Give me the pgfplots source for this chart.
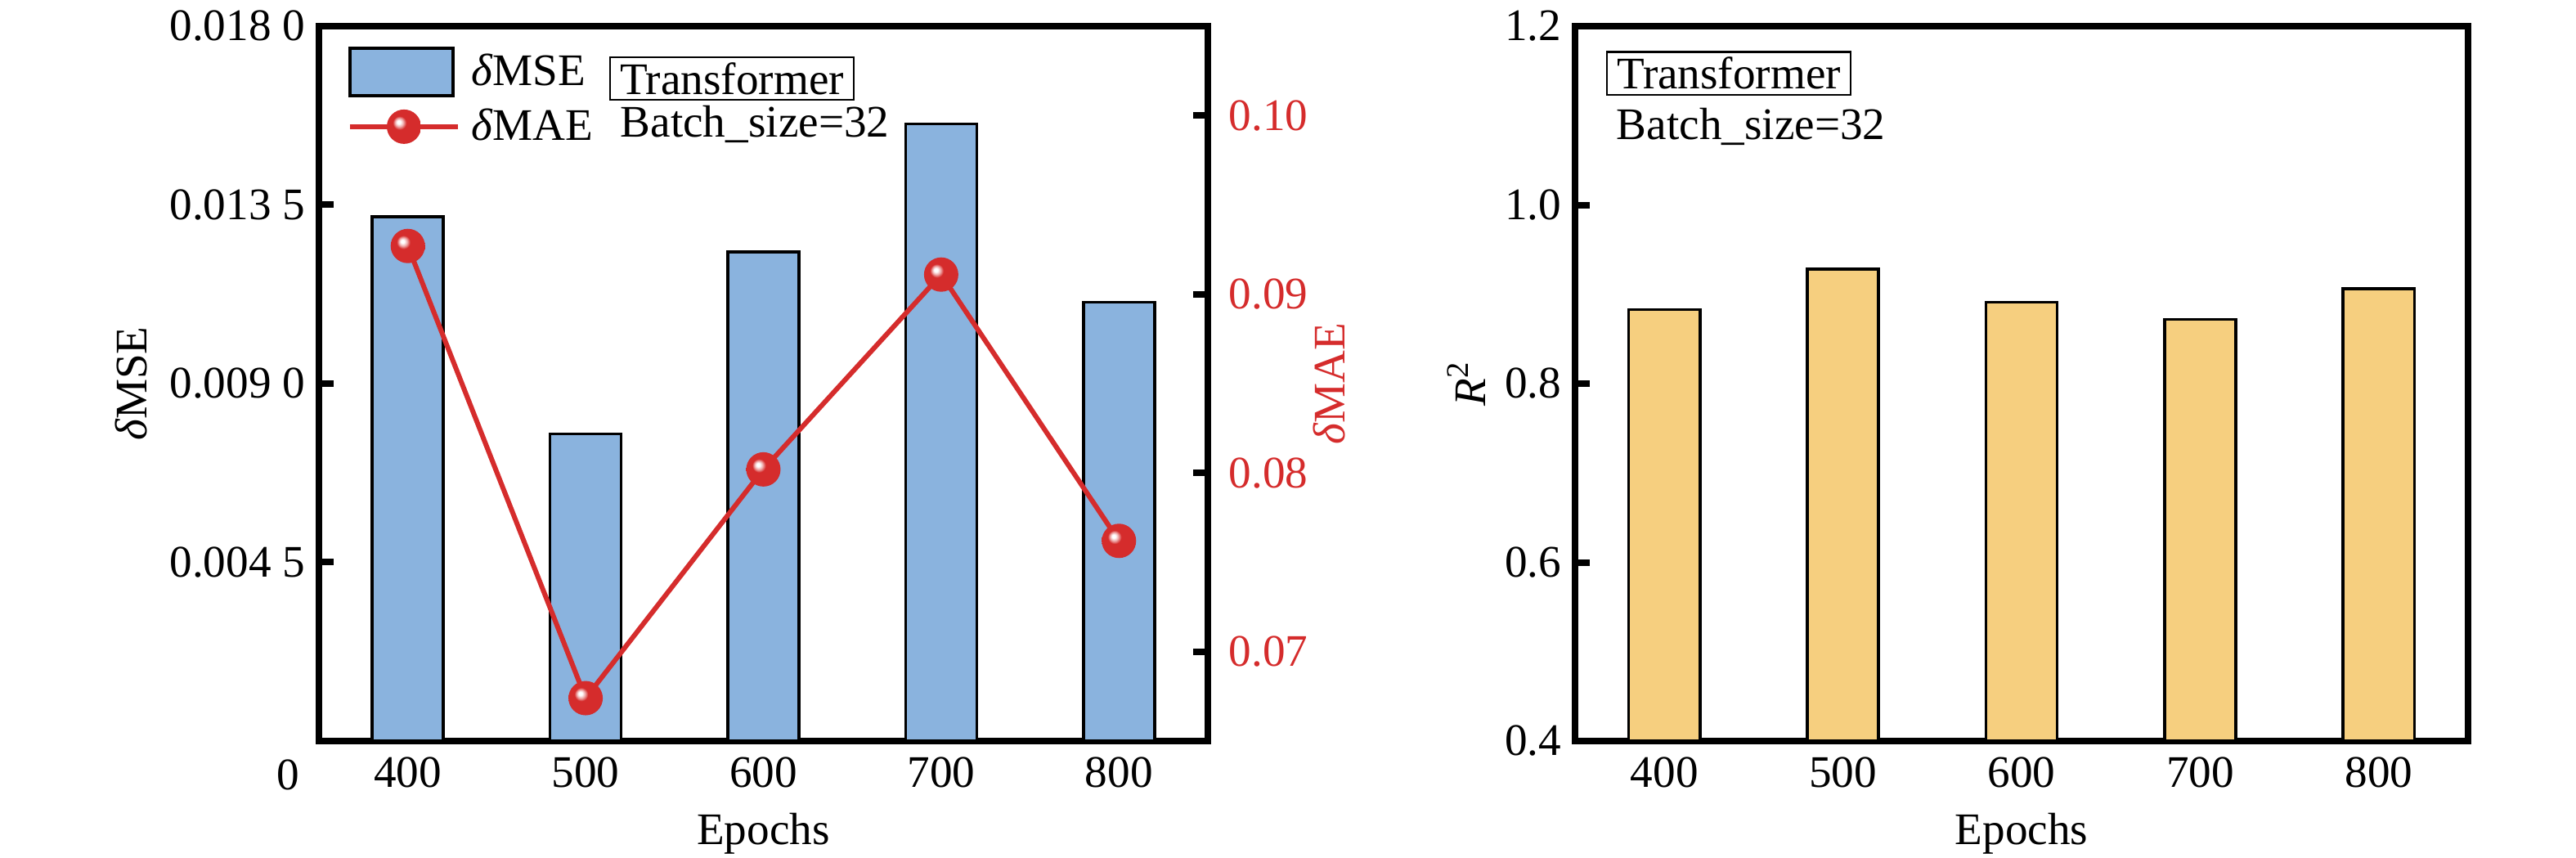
\documentclass[border=0pt]{standalone}
\usepackage{fontspec}
\setmainfont{Liberation Serif}
\usepackage{pgfplots}
\pgfplotsset{compat=1.18}
\definecolor{barblue}{RGB}{138,179,222}
\definecolor{baryellow}{RGB}{246,207,127}
\definecolor{myred}{RGB}{213,44,44}
\colorlet{ballpink}{myred!40!white}
\colorlet{balldark}{myred!82!black}
\pgfdeclareradialshading{myballshade}{\pgfpoint{-8bp}{7bp}}{%
  color(0bp)=(white); color(2.5bp)=(white); color(6bp)=(ballpink);
  color(10bp)=(myred); color(27bp)=(myred); color(38bp)=(balldark); color(50bp)=(balldark)}
\pgfdeclareplotmark{shball}{%
  \pgfpathcircle{\pgfpointorigin}{\pgfplotmarksize}%
  \pgfshadepath{myballshade}{0}%
  \pgfusepath{}%
}
\newcommand{\fs}{\fontsize{13.8}{16.5}\selectfont}
\pgfplotsset{
  mybarlegend/.style={legend image code/.code={\draw[##1,/tikz/.cd] (0pt,-7.25pt) rectangle (31.5pt,7.25pt);}},
  mylinelegend/.style={legend image code/.code={\draw[##1, mark repeat=2, mark phase=2] plot coordinates {(0pt,0pt) (16.5pt,0pt) (33pt,0pt)};}},
  base/.style={
    scale only axis, width=271.75pt, height=218.5pt,
    anchor=south west,
    xmin=-0.5, xmax=4.5,
    font=\fs,
    axis line style={line width=2pt,-},
    tick align=inside,
    major tick length=4.5pt,
    every tick/.style={black, line width=2pt},
    scaled y ticks=false,
    xtick={0,1,2,3,4},
    xticklabels={400,500,600,700,800},
    xtick style={draw=none},
    xticklabel style={anchor=north, inner sep=0pt, yshift=-4.75pt},
    xlabel={Epochs},
    xlabel style={at={(axis description cs:0.5,-0.1442)}, anchor=base},
  }
}
\begin{document}
\begin{tikzpicture}
\useasboundingbox (0,0) rectangle (787.5pt,262.25pt);
% ---------- left panel, bars ----------
\begin{axis}[base, at={(97.5pt,35.75pt)},
  ymin=0, ymax=0.018,
  ytick={0.0045,0.009,0.0135,0.018},
  yticklabels={0.004 5,0.009 0,0.013 5,0.018 0},
  ytick pos=left,
  yticklabel style={anchor=east, inner sep=0pt, xshift=-4pt},
  ylabel={{\itshape δ}MSE},
  ylabel style={at={(axis description cs:-0.2116,0.5)}, anchor=center},
  legend style={draw=none, fill=none, inner sep=0pt, outer sep=0pt,
    at={(axis description cs:0,1)}, anchor=north west,
    xshift=8.75pt, yshift=-6.25pt,
    nodes={inner sep=0pt, font=\fs},
    row sep=3.5pt,
    /tikz/every odd column/.append style={column sep=3.5pt}},
  legend cell align=left,
]
\addplot[ybar, bar width=0.4, fill=barblue, draw=black, line width=0.9pt, mybarlegend]
  coordinates {(0,0.013204) (1,0.007733) (2,0.012316) (3,0.015537) (4,0.011049)};
\addlegendimage{myred, line width=1.5pt, mark=shball, mark size=5.25pt, mylinelegend}
\legend{{\itshape δ}MSE, {\itshape δ}MAE}
\node[draw, line width=0.6pt, inner xsep=3pt, inner ysep=1.6pt, anchor=west]
  at ([xshift=88.75pt,yshift=-16pt]axis description cs:0,1) {Transformer};
\node[inner sep=0pt, anchor=west]
  at ([xshift=92pt,yshift=-30pt]axis description cs:0,1) {Batch\_size=32};
\end{axis}
\node[anchor=north east, inner sep=0pt, font=\fs] at (91.75pt,30.25pt) {0};
% ---------- left panel, line ----------
\begin{axis}[base, at={(97.5pt,35.75pt)},
  axis x line=none, axis y line*=right,
  xlabel={}, 
  ymin=0.065, ymax=0.105,
  ytick={0.07,0.08,0.09,0.10},
  yticklabels={0.07,0.08,0.09,0.10},
  yticklabel style={anchor=west, inner sep=0pt, xshift=6.25pt, text=myred},
  ylabel={{\itshape δ}MAE},
  ylabel style={at={(axis description cs:1.1362,0.5)}, anchor=center, text=myred},
  clip=false,
]
\addplot[myred, line width=1.5pt, mark=shball, mark size=5.25pt]
  coordinates {(0,0.0927) (1,0.0674) (2,0.0802) (3,0.0911) (4,0.0762)};
\end{axis}
% ---------- right panel ----------
\begin{axis}[base, at={(481.5pt,35.75pt)}, width=273pt,
  ymin=0.4, ymax=1.2,
  ytick={0.4,0.6,0.8,1.0,1.2},
  yticklabels={0.4,0.6,0.8,1.0,1.2},
  ytick pos=left,
  yticklabel style={anchor=east, inner sep=0pt, xshift=-4pt},
  ylabel={\textit{R}\textsuperscript{2}},
  ylabel style={at={(axis description cs:-0.1218,0.5)}, anchor=center},
]
\addplot[ybar, bar width=0.4, fill=baryellow, draw=black, line width=0.9pt]
  coordinates {(0,0.883) (1,0.928) (2,0.891) (3,0.872) (4,0.906)};
\node[draw, line width=0.6pt, inner xsep=3pt, inner ysep=1.6pt, anchor=west]
  at ([xshift=9.5pt,yshift=-14.4pt]axis description cs:0,1) {Transformer};
\node[inner sep=0pt, anchor=west]
  at ([xshift=12.5pt,yshift=-30.75pt]axis description cs:0,1) {Batch\_size=32};
\end{axis}
\end{tikzpicture}
\end{document}
